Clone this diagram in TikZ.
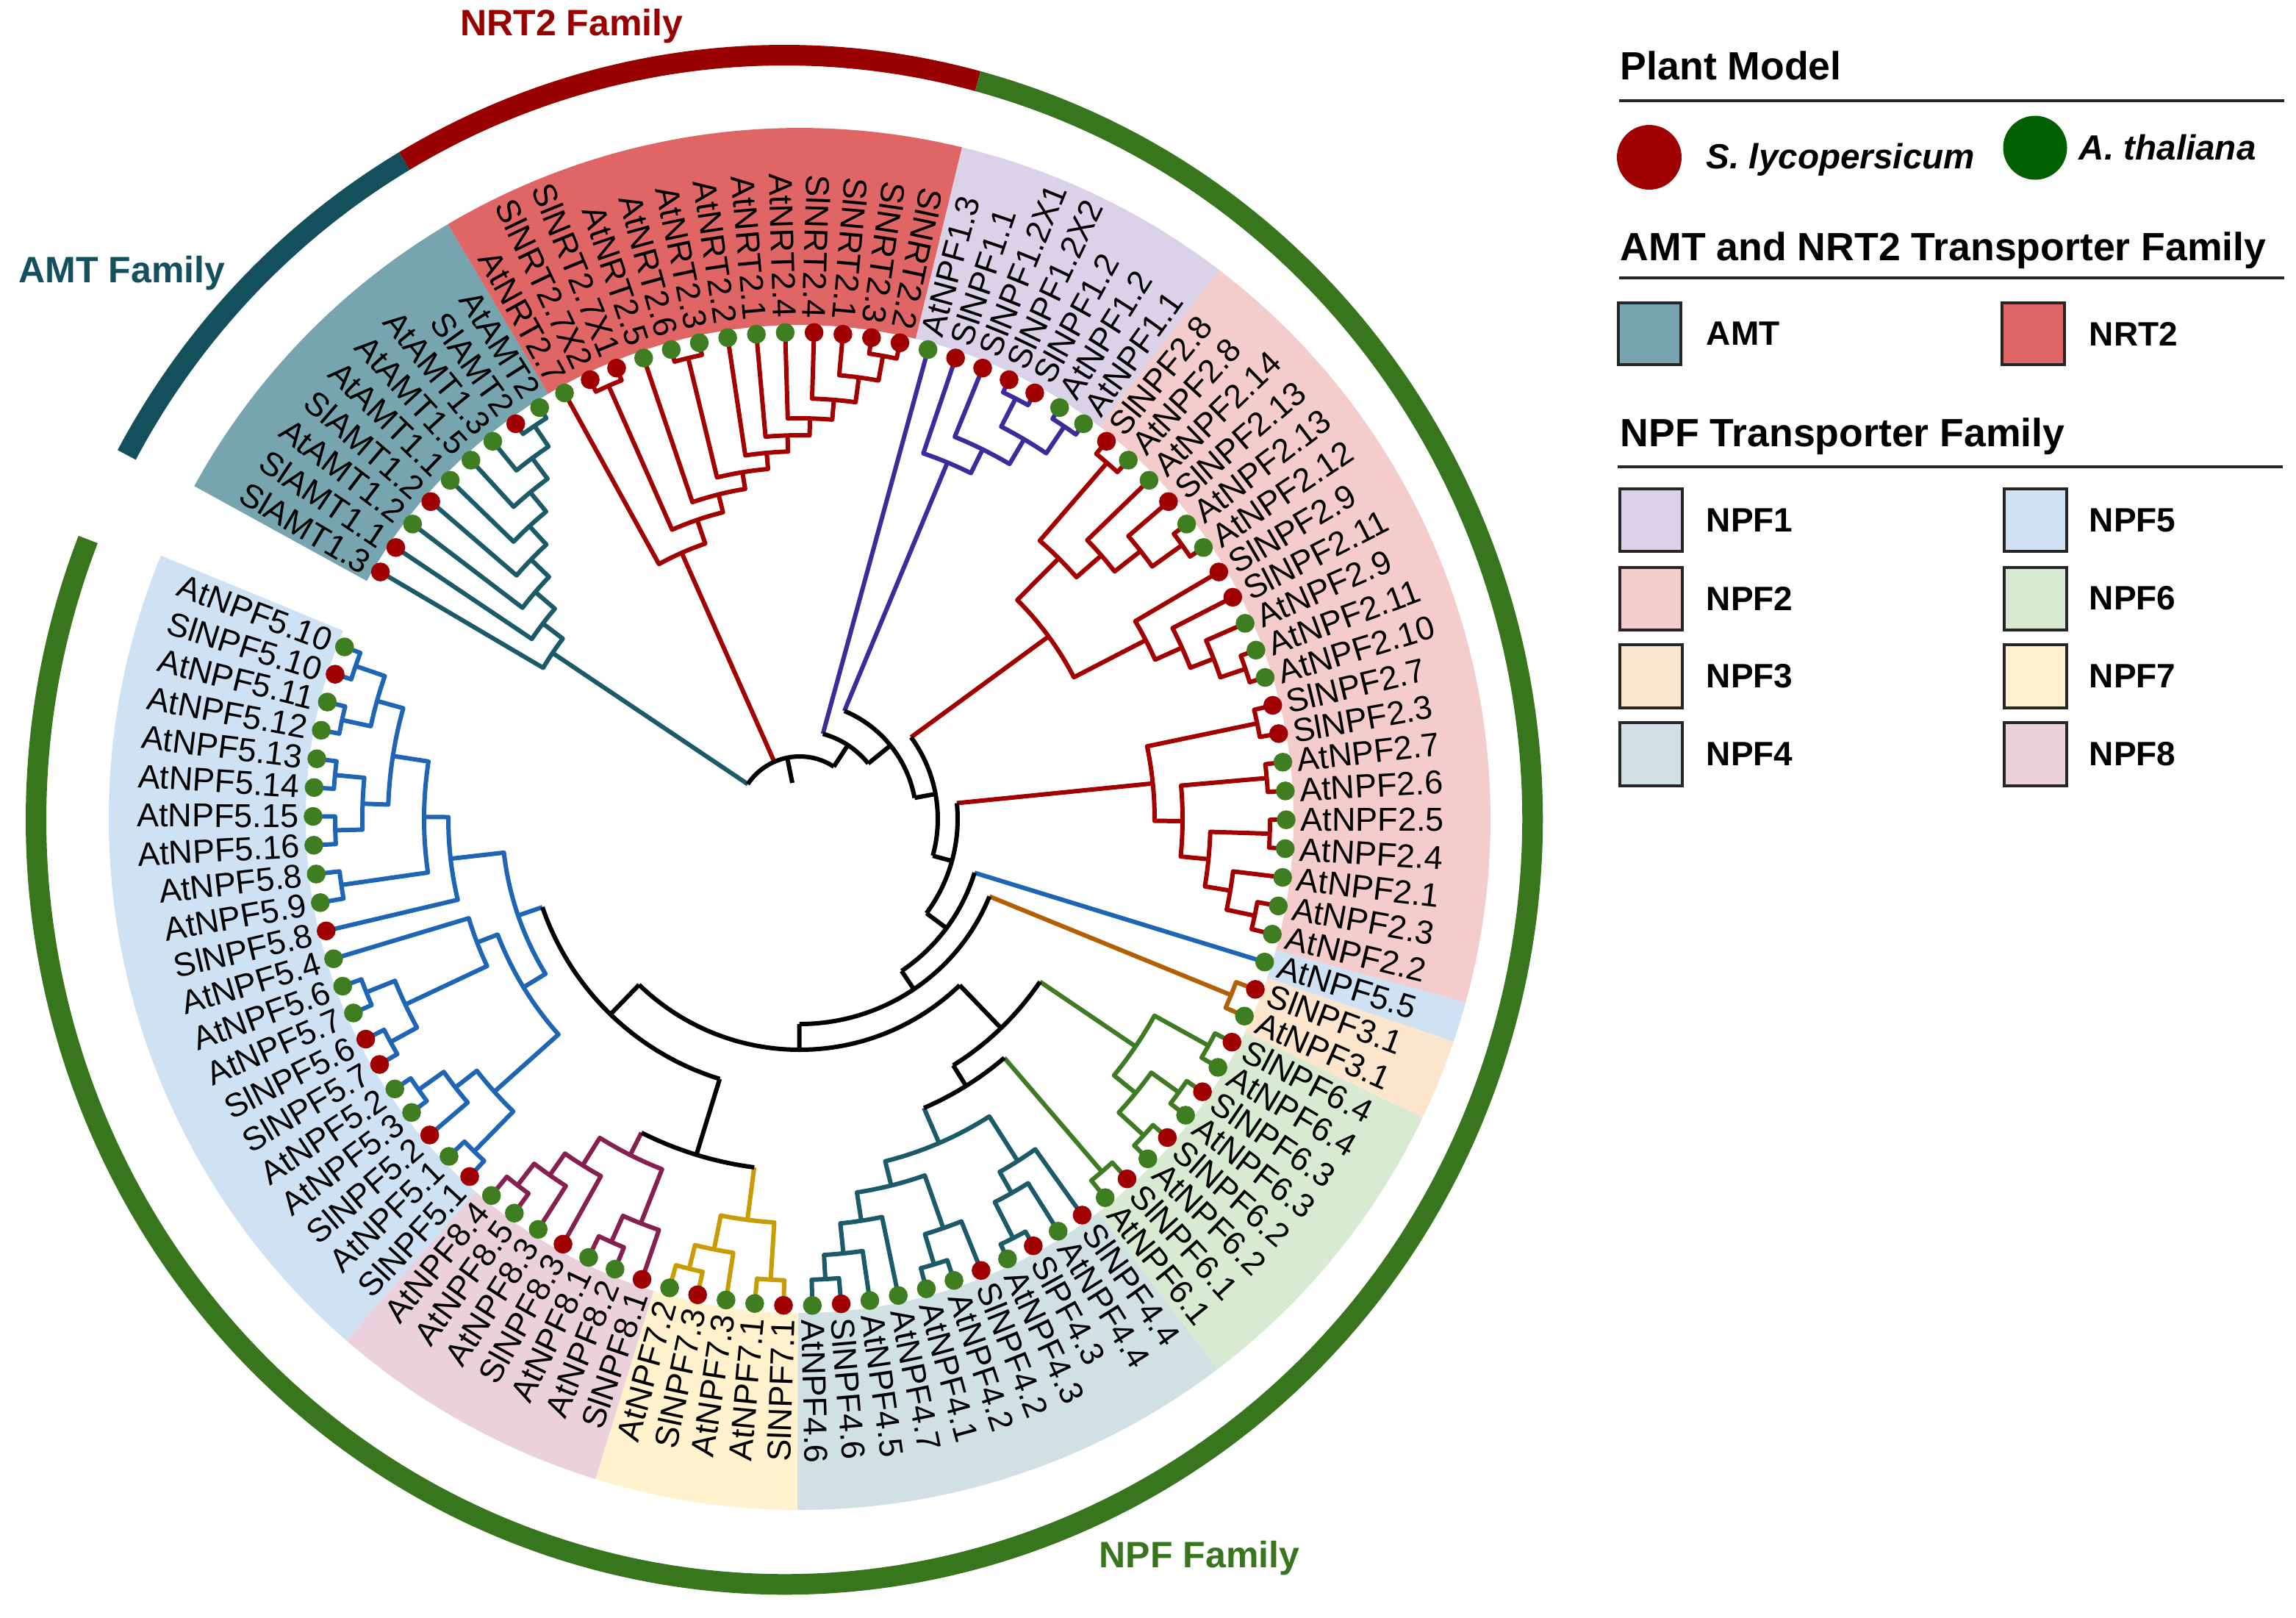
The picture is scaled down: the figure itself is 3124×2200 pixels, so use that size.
\documentclass[tikz,border=0pt]{standalone}
\usepackage{fontspec}
\setmainfont{Liberation Sans}
\usepackage{xfp}
\definecolor{sAMT}{HTML}{76A5AF}
\definecolor{sNRT}{HTML}{E06666}
\definecolor{sN1}{HTML}{D9D2E9}
\definecolor{sN2}{HTML}{F4CCCC}
\definecolor{sN3}{HTML}{FCE5CD}
\definecolor{sN4}{HTML}{D0E0E3}
\definecolor{sN5}{HTML}{CFE2F3}
\definecolor{sN6}{HTML}{D9EAD3}
\definecolor{sN7}{HTML}{FFF2CC}
\definecolor{sN8}{HTML}{EAD1DC}
\definecolor{rAMT}{HTML}{134F5C}
\definecolor{rNRT}{HTML}{990000}
\definecolor{rNPF}{HTML}{38761D}
\definecolor{lAMT}{HTML}{1B5A68}
\definecolor{lRED}{HTML}{A30000}
\definecolor{lN1}{HTML}{3F2A9C}
\definecolor{lN3}{HTML}{B45F06}
\definecolor{lN5}{HTML}{1E65B5}
\definecolor{lN6}{HTML}{3E7B22}
\definecolor{lN7}{HTML}{C99B04}
\definecolor{lN8}{HTML}{86204F}
\definecolor{dR}{HTML}{A00000}
\definecolor{dG}{HTML}{3E7D20}
\definecolor{lgG}{HTML}{005F00}
\newcommand\LA[1]{\fpeval{149.5-3.4*(#1)}}
\newcommand\MID[2]{\fpeval{((#1)+(#2))/2}}
\newcommand\Nd[6]{\edef\ndA{#3}\edef\ndB{#5}\draw[#1] (\ndA:#4) -- (\ndA:#2) arc[start angle=\ndA,end angle=\ndB,radius=#2] -- (\ndB:#6);}
\newcommand\Rd[4]{\edef\ndA{#2}\draw[#1] (\ndA:#3) -- (\ndA:#4);}
\newcommand\Ar[4]{\edef\ndA{#3}\edef\ndB{#4}\draw[#1] (\ndA:#2) arc[start angle=\ndA,end angle=\ndB,radius=#2];}
\newcommand\Sec[3]{\edef\secA{\fpeval{149.5-3.4*(#2)+1.7}}\edef\secB{\fpeval{149.5-3.4*(#3)-1.7}}\fill[#1] (\secA:672) arc[start angle=\secA,end angle=\secB,radius=672] -- (\secB:940) arc[start angle=\secB,end angle=\secA,radius=940] -- cycle;}
\newcommand\Lf[3]{\edef\lfA{\LA{#1}}\node[dot#3] (d#1) at (\lfA:662) {};%
\ifnum#1<22 \edef\lfR{\fpeval{\lfA+180}}\node[lab,anchor=east,rotate=\lfR] (l#1) at (\lfA:681) {#2};%
\else\ifnum#1>70 \edef\lfR{\fpeval{\lfA+180}}\node[lab,anchor=east,rotate=\lfR] (l#1) at (\lfA:681) {#2};%
\else\node[lab,anchor=west,rotate=\lfA] (l#1) at (\lfA:681) {#2};\fi\fi}
\tikzset{
 br/.style={line width=1.5pt, line join=round},
 blk/.style={br, draw=black},
 amt/.style={br, draw=lAMT},
 nrt/.style={br, draw=lRED},
 npfa/.style={br, draw=lN1},
 npfc/.style={br, draw=lN3},
 npfd/.style={br, draw=lAMT},
 npfe/.style={br, draw=lN5},
 npff/.style={br, draw=lN6},
 npfg/.style={br, draw=lN7},
 npfh/.style={br, draw=lN8},
 dotr/.style={circle, fill=dR, inner sep=0pt, minimum size=6.4pt},
 dotg/.style={circle, fill=dG, inner sep=0pt, minimum size=6.4pt},
 lab/.style={font=\fontsize{11.25}{13}\selectfont, inner sep=0pt, text=black},
 ringst/.style={line width=7pt},
 fam/.style={font=\fontsize{12.5}{15}\selectfont\bfseries, inner sep=0pt},
 ttl/.style={font=\fontsize{13.4}{16}\selectfont\bfseries, inner sep=0pt, text=black},
 spc/.style={font=\fontsize{11.9}{15}\selectfont\bfseries\itshape, inner sep=0pt, text=black},
 lgt/.style={font=\fontsize{11.5}{14}\selectfont\bfseries, inner sep=0pt, text=black},
 legline/.style={line width=1pt, draw=black!85},
 swatch/.style={line width=1pt, draw=black!85},
}
\begin{document}
\begin{tikzpicture}[x=0.25pt,y=0.25pt]
\useasboundingbox (-1088,-1086) rectangle (2036,1114);
\fill[white] (-1088,-1086) rectangle (2036,1114);
% ---------- sectors ----------
\Sec{sAMT}{0}{8}
\Sec{sNRT}{9}{21}
\Sec{sN1}{22}{28}
\Sec{sN2}{29}{48}
\Sec{sN5}{49}{49}
\Sec{sN3}{50}{51}
\Sec{sN6}{52}{59}
\Sec{sN4}{60}{70}
\Sec{sN7}{71}{75}
\Sec{sN8}{76}{82}
\Sec{sN5}{83}{103}
% ---------- rings ----------
\begin{scope}[shift={(-21,-1)}]
\draw[ringst, rAMT] (151.5:1018 and 1040) arc[start angle=151.5,end angle=120.5,x radius=1018,y radius=1040];
\draw[ringst, rNRT] (120.5:1018 and 1040) arc[start angle=120.5,end angle=75,x radius=1018,y radius=1040];
\draw[ringst, rNPF] (75:1018 and 1040) arc[start angle=75,end angle=-201.5,x radius=1018,y radius=1040];
\end{scope}
\node[fam, text=rNRT] (fN) at (-310,1078) {NRT2 Family};
\node[fam, text=rAMT] (fA) at (-922,742) {AMT Family};
\node[fam, text=rNPF] (fP) at (544,-1006) {NPF Family};
% ---------- AMT ----------
\edef\amH{\MID{\LA{7}}{\LA{8}}}
\edef\amG{\MID{\LA{6}}{\amH}}
\edef\amF{\MID{\LA{5}}{\amG}}
\edef\amE{\MID{\LA{4}}{\amF}}
\edef\amD{\MID{\LA{3}}{\amE}}
\edef\amC{\MID{\LA{2}}{\amD}}
\edef\amB{\MID{\LA{1}}{\amC}}
\edef\amA{\MID{\LA{0}}{\amB}}
\Nd{amt}{645}{\LA{7}}{662}{\LA{8}}{662}
\Nd{amt}{611}{\LA{6}}{662}{\amH}{645}
\Nd{amt}{576}{\LA{5}}{662}{\amG}{611}
\Nd{amt}{542}{\LA{4}}{662}{\amF}{576}
\Nd{amt}{508}{\LA{3}}{662}{\amE}{542}
\Nd{amt}{474}{\LA{2}}{662}{\amD}{508}
\Nd{amt}{439}{\LA{1}}{662}{\amC}{474}
\Nd{amt}{405}{\LA{0}}{662}{\amB}{439}
% ---------- NRT2 ----------
\edef\nrJ{\MID{\LA{20}}{\LA{21}}}
\edef\nrI{\MID{\LA{19}}{\nrJ}}
\edef\nrH{\MID{\LA{18}}{\nrI}}
\edef\nrG{\MID{\LA{17}}{\nrH}}
\edef\nrF{\MID{\LA{16}}{\nrG}}
\edef\nrE{\MID{\LA{15}}{\nrF}}
\edef\nrP{\MID{\LA{13}}{\LA{14}}}
\edef\nrD{\MID{\nrP}{\nrE}}
\edef\nrC{\MID{\LA{12}}{\nrD}}
\edef\nrX{\MID{\LA{10}}{\LA{11}}}
\edef\nrB{\MID{\nrX}{\nrC}}
\edef\nrA{\MID{\LA{9}}{\nrB}}
\Nd{nrt}{640}{\LA{20}}{662}{\LA{21}}{662}
\Nd{nrt}{606}{\LA{19}}{662}{\nrJ}{640}
\Nd{nrt}{572}{\LA{18}}{662}{\nrI}{606}
\Nd{nrt}{545}{\LA{17}}{662}{\nrH}{572}
\Nd{nrt}{522}{\LA{16}}{662}{\nrG}{545}
\Nd{nrt}{500}{\LA{15}}{662}{\nrF}{522}
\Nd{nrt}{645}{\LA{13}}{662}{\LA{14}}{662}
\Nd{nrt}{478}{\nrP}{645}{\nrE}{500}
\Nd{nrt}{455}{\LA{12}}{662}{\nrD}{478}
\Nd{nrt}{644}{\LA{10}}{662}{\LA{11}}{662}
\Nd{nrt}{430}{\nrX}{644}{\nrC}{455}
\Nd{nrt}{396}{\LA{9}}{662}{\nrB}{430}
% ---------- NPF1 ----------
\edef\naP{\MID{\LA{25}}{\LA{26}}}
\edef\naQ{\MID{\LA{27}}{\LA{28}}}
\edef\naC{\MID{\naP}{\naQ}}
\edef\naB{\MID{\LA{24}}{\naC}}
\edef\naA{\MID{\LA{23}}{\naB}}
\Nd{npfa}{643}{\LA{25}}{662}{\LA{26}}{662}
\Nd{npfa}{644}{\LA{27}}{662}{\LA{28}}{662}
\Nd{npfa}{600}{\naP}{643}{\naQ}{644}
\Nd{npfa}{561}{\LA{24}}{662}{\naC}{600}
\Nd{npfa}{525}{\LA{23}}{662}{\naB}{561}
% ---------- NPF2 a ----------
\edef\nbP{\MID{\LA{29}}{\LA{30}}}
\edef\nbQ{\MID{\LA{33}}{\LA{34}}}
\edef\nbD{\MID{\LA{32}}{\nbQ}}
\edef\nbC{\MID{\LA{31}}{\nbD}}
\edef\nbB{\MID{\nbP}{\nbC}}
\edef\nbR{\MID{\LA{38}}{\LA{39}}}
\edef\nbG{\MID{\LA{37}}{\nbR}}
\edef\nbF{\MID{\LA{36}}{\nbG}}
\edef\nbE{\MID{\LA{35}}{\nbF}}
\edef\nbA{\MID{\nbB}{\nbE}}
\Nd{nrt}{640}{\LA{29}}{662}{\LA{30}}{662}
\Nd{nrt}{640}{\LA{33}}{662}{\LA{34}}{662}
\Nd{nrt}{590}{\LA{32}}{662}{\nbQ}{640}
\Nd{nrt}{545}{\LA{31}}{662}{\nbD}{590}
\Nd{nrt}{500}{\nbP}{640}{\nbC}{545}
\Nd{nrt}{640}{\LA{38}}{662}{\LA{39}}{662}
\Nd{nrt}{604}{\LA{37}}{662}{\nbR}{640}
\Nd{nrt}{570}{\LA{36}}{662}{\nbG}{604}
\Nd{nrt}{530}{\LA{35}}{662}{\nbF}{570}
\Nd{nrt}{420}{\nbB}{500}{\nbE}{530}
% ---------- NPF2 b ----------
\edef\ncP{\MID{\LA{40}}{\LA{41}}}
\edef\ncQ{\MID{\LA{42}}{\LA{43}}}
\edef\ncR{\MID{\LA{44}}{\LA{45}}}
\edef\ncS{\MID{\LA{47}}{\LA{48}}}
\edef\ncD{\MID{\LA{46}}{\ncS}}
\edef\ncC{\MID{\ncR}{\ncD}}
\edef\ncB{\MID{\ncQ}{\ncC}}
\edef\ncA{\MID{\ncP}{\ncB}}
\Nd{nrt}{636}{\LA{40}}{662}{\LA{41}}{662}
\Nd{nrt}{638}{\LA{42}}{662}{\LA{43}}{662}
\Nd{nrt}{640}{\LA{44}}{662}{\LA{45}}{662}
\Nd{nrt}{633}{\LA{47}}{662}{\LA{48}}{662}
\Nd{nrt}{594}{\LA{46}}{662}{\ncS}{633}
\Nd{nrt}{559}{\ncR}{640}{\ncD}{594}
\Nd{nrt}{521}{\ncQ}{638}{\ncC}{559}
\Nd{nrt}{483}{\ncP}{636}{\ncB}{521}
% ---------- NPF3 ----------
\edef\ndP{\MID{\LA{50}}{\LA{51}}}
\Nd{npfc}{634}{\LA{50}}{662}{\LA{51}}{662}
% ---------- NPF6 ----------
\edef\nfP{\MID{\LA{52}}{\LA{53}}}
\edef\nfQ{\MID{\LA{54}}{\LA{55}}}
\edef\nfR{\MID{\LA{56}}{\LA{57}}}
\edef\nfS{\MID{\LA{58}}{\LA{59}}}
\edef\nfB{\MID{\nfQ}{\nfR}}
\edef\nfA{\MID{\nfP}{\nfB}}
\Nd{npff}{636}{\LA{52}}{662}{\LA{53}}{662}
\Nd{npff}{636}{\LA{54}}{662}{\LA{55}}{662}
\Nd{npff}{636}{\LA{56}}{662}{\LA{57}}{662}
\Nd{npff}{632}{\LA{58}}{662}{\LA{59}}{662}
\Nd{npff}{590}{\nfQ}{636}{\nfR}{636}
\Nd{npff}{552}{\nfP}{636}{\nfB}{590}
% ---------- NPF4 ----------
\edef\ngP{\MID{\LA{62}}{\LA{63}}}
\edef\ngC{\MID{\LA{61}}{\ngP}}
\edef\ngB{\MID{\LA{60}}{\ngC}}
\edef\ngQ{\MID{\LA{65}}{\LA{66}}}
\edef\ngE{\MID{\LA{64}}{\ngQ}}
\edef\ngR{\MID{\LA{69}}{\LA{70}}}
\edef\ngG{\MID{\LA{68}}{\ngR}}
\edef\ngF{\MID{\LA{67}}{\ngG}}
\edef\ngD{\MID{\ngE}{\ngF}}
\edef\ngA{\MID{\ngB}{\ngD}}
\Nd{npfd}{640}{\LA{62}}{662}{\LA{63}}{662}
\Nd{npfd}{585}{\LA{61}}{662}{\ngP}{640}
\Nd{npfd}{552}{\LA{60}}{662}{\ngC}{585}
\Nd{npfd}{633}{\LA{65}}{662}{\LA{66}}{662}
\Nd{npfd}{590}{\LA{64}}{662}{\ngQ}{633}
\Nd{npfd}{627}{\LA{69}}{662}{\LA{70}}{662}
\Nd{npfd}{594}{\LA{68}}{662}{\ngR}{627}
\Nd{npfd}{553}{\LA{67}}{662}{\ngG}{594}
\Nd{npfd}{514}{\ngE}{590}{\ngF}{553}
\Nd{npfd}{480}{\ngB}{552}{\ngD}{514}
% ---------- NPF7 ----------
\edef\nhP{\MID{\LA{71}}{\LA{72}}}
\edef\nhQ{\MID{\LA{74}}{\LA{75}}}
\edef\nhB{\MID{\LA{73}}{\nhQ}}
\edef\nhA{\MID{\nhP}{\nhB}}
\Nd{npfg}{628}{\LA{71}}{662}{\LA{72}}{662}
\Nd{npfg}{630}{\LA{74}}{662}{\LA{75}}{662}
\Nd{npfg}{597}{\LA{73}}{662}{\nhQ}{630}
\Nd{npfg}{550}{\nhP}{628}{\nhB}{597}
% ---------- NPF8 ----------
\edef\niP{\MID{\LA{77}}{\LA{78}}}
\edef\niB{\MID{\LA{76}}{\niP}}
\edef\niQ{\MID{\LA{81}}{\LA{82}}}
\edef\niD{\MID{\LA{80}}{\niQ}}
\edef\niC{\MID{\LA{79}}{\niD}}
\edef\niA{\MID{\niB}{\niC}}
\Nd{npfh}{630}{\LA{77}}{662}{\LA{78}}{662}
\Nd{npfh}{591}{\LA{76}}{662}{\niP}{630}
\Nd{npfh}{629}{\LA{81}}{662}{\LA{82}}{662}
\Nd{npfh}{592}{\LA{80}}{662}{\niQ}{629}
\Nd{npfh}{556}{\LA{79}}{662}{\niD}{592}
\Nd{npfh}{512}{\niB}{591}{\niC}{556}
% ---------- NPF5 ----------
\edef\njP{\MID{\LA{83}}{\LA{84}}}
\edef\njQ{\MID{\LA{86}}{\LA{87}}}
\edef\njC{\MID{\LA{85}}{\njQ}}
\edef\njB{\MID{\njP}{\njC}}
\edef\njR{\MID{\LA{88}}{\LA{89}}}
\edef\njS{\MID{\LA{90}}{\LA{91}}}
\edef\njD{\MID{\njR}{\njS}}
\edef\njE{\MID{\njD}{\LA{92}}}
\edef\njF{\MID{\njB}{\njE}}
\edef\nkP{\MID{\LA{94}}{\LA{95}}}
\edef\nkQ{\MID{\LA{96}}{\LA{97}}}
\edef\nkR{\MID{\LA{98}}{\LA{99}}}
\edef\nkS{\MID{\LA{100}}{\LA{101}}}
\edef\nkT{\MID{\LA{102}}{\LA{103}}}
\edef\nkD{\MID{\nkQ}{\nkR}}
\edef\nkE{\MID{\nkS}{\nkT}}
\edef\nkC{\MID{\nkD}{\nkE}}
\edef\nkB{\MID{\nkP}{\nkC}}
\edef\nkA{\MID{\LA{93}}{\nkB}}
\edef\nfZ{\MID{\njF}{\nkA}}
\Nd{npfe}{633}{\LA{83}}{662}{\LA{84}}{662}
\Nd{npfe}{636}{\LA{86}}{662}{\LA{87}}{662}
\Nd{npfe}{594}{\LA{85}}{662}{\njQ}{636}
\Nd{npfe}{557}{\njP}{633}{\njC}{594}
\Nd{npfe}{634}{\LA{88}}{662}{\LA{89}}{662}
\Nd{npfe}{635}{\LA{90}}{662}{\LA{91}}{662}
\Nd{npfe}{593}{\njR}{634}{\njS}{635}
\Nd{npfe}{470}{\njD}{593}{\LA{92}}{662}
\Nd{npfe}{440}{\njB}{557}{\njE}{470}
\Nd{npfe}{630}{\LA{94}}{662}{\LA{95}}{662}
\Nd{npfe}{632}{\LA{96}}{662}{\LA{97}}{662}
\Nd{npfe}{635}{\LA{98}}{662}{\LA{99}}{662}
\Nd{npfe}{637}{\LA{100}}{662}{\LA{101}}{662}
\Nd{npfe}{639}{\LA{102}}{662}{\LA{103}}{662}
\Nd{npfe}{595}{\nkQ}{632}{\nkR}{635}
\Nd{npfe}{597}{\nkS}{637}{\nkT}{639}
\Nd{npfe}{560}{\nkD}{595}{\nkE}{597}
\Nd{npfe}{511}{\nkP}{630}{\nkC}{560}
\Nd{npfe}{478}{\LA{93}}{662}{\nkB}{511}
\Nd{npfe}{405}{\njF}{440}{\nkA}{478}
% ---------- backbone ----------
\edef\DB{\MID{\nfS}{\ngA}}
\edef\DA{\MID{\nfA}{\DB}}
\edef\EB{\MID{\nhA}{\niA}}
\edef\EA{\MID{\EB}{\nfZ}}
\edef\EZ{\MID{\DA}{\EA}}
\edef\CF{\MID{\ndP}{\EZ}}
\edef\CE{\MID{\LA{49}}{\CF}}
\edef\CD{\MID{\ncA}{\CE}}
\edef\CC{\MID{\nbA}{\CD}}
\edef\CB{\MID{\naA}{\CC}}
\edef\CA{\MID{\LA{22}}{\CB}}
\edef\RR{\MID{\amA}{\CA}}
\Rd{amt}{\amA}{85}{405}
\Rd{nrt}{\nrA}{85}{396}
\Rd{npfa}{\LA{22}}{120}{662}
\Rd{npfa}{\naA}{159}{525}
\Rd{nrt}{\nbA}{188}{420}
\Rd{nrt}{\ncA}{215}{483}
\Rd{npfe}{\LA{49}}{249}{662}
\Rd{npfc}{\ndP}{279}{634}
\Rd{npff}{\nfA}{395}{552}
\Rd{npff}{\nfS}{428}{632}
\Rd{npfd}{\ngA}{428}{480}
\Rd{npfe}{\nfZ}{370}{405}
\Rd{npfg}{\nhA}{478}{550}
\Rd{npfh}{\niA}{478}{512}
\Ar{blk}{85}{\amA}{\CA}
\Rd{blk}{\RR}{50}{85}
\Rd{blk}{\CA}{85}{120}
\Ar{blk}{120}{\LA{22}}{\CB}
\Rd{blk}{\CB}{120}{159}
\Ar{blk}{159}{\naA}{\CC}
\Rd{blk}{\CC}{159}{188}
\Ar{blk}{188}{\nbA}{\CD}
\Rd{blk}{\CD}{188}{215}
\Ar{blk}{215}{\ncA}{\CE}
\Rd{blk}{\CE}{215}{249}
\Ar{blk}{249}{\LA{49}}{\CF}
\Rd{blk}{\CF}{249}{279}
\Ar{blk}{279}{\ndP}{\EZ}
\Rd{blk}{\EZ}{279}{314}
\Ar{blk}{314}{\DA}{\EA}
\Rd{blk}{\DA}{314}{395}
\Ar{blk}{395}{\nfA}{\DB}
\Rd{blk}{\DB}{395}{428}
\Ar{blk}{428}{\nfS}{\ngA}
\Rd{blk}{\EA}{314}{370}
\Ar{blk}{370}{\EB}{\nfZ}
\Rd{blk}{\EB}{370}{478}
\Ar{blk}{478}{\nhA}{\niA}
% ---------- leaves ----------
\Lf{0}{SlAMT1.3}{r}
\Lf{1}{SlAMT1.1}{r}
\Lf{2}{AtAMT1.2}{g}
\Lf{3}{SlAMT1.2}{r}
\Lf{4}{AtAMT1.1}{g}
\Lf{5}{AtAMT1.5}{g}
\Lf{6}{AtAMT1.3}{g}
\Lf{7}{SlAMT2}{r}
\Lf{8}{AtAMT2}{g}
\Lf{9}{AtNRT2.7}{g}
\Lf{10}{SlNRT2.7X2}{r}
\Lf{11}{SlNRT2.7X1}{r}
\Lf{12}{AtNRT2.5}{g}
\Lf{13}{AtNRT2.6}{g}
\Lf{14}{AtNRT2.3}{g}
\Lf{15}{AtNRT2.2}{g}
\Lf{16}{AtNRT2.1}{g}
\Lf{17}{AtNRT2.4}{g}
\Lf{18}{SlNRT2.4}{r}
\Lf{19}{SlNRT2.1}{r}
\Lf{20}{SlNRT2.3}{r}
\Lf{21}{SlNRT2.2}{r}
\Lf{22}{AtNPF1.3}{g}
\Lf{23}{SlNPF1.1}{r}
\Lf{24}{SlNPF1.2X1}{r}
\Lf{25}{SlNPF1.2X2}{r}
\Lf{26}{SlNPF1.2}{r}
\Lf{27}{AtNPF1.2}{g}
\Lf{28}{AtNPF1.1}{g}
\Lf{29}{SlNPF2.8}{r}
\Lf{30}{AtNPF2.8}{g}
\Lf{31}{AtNPF2.14}{g}
\Lf{32}{SlNPF2.13}{r}
\Lf{33}{AtNPF2.13}{g}
\Lf{34}{AtNPF2.12}{g}
\Lf{35}{SlNPF2.9}{r}
\Lf{36}{SlNPF2.11}{r}
\Lf{37}{AtNPF2.9}{g}
\Lf{38}{AtNPF2.11}{g}
\Lf{39}{AtNPF2.10}{g}
\Lf{40}{SlNPF2.7}{r}
\Lf{41}{SlNPF2.3}{r}
\Lf{42}{AtNPF2.7}{g}
\Lf{43}{AtNPF2.6}{g}
\Lf{44}{AtNPF2.5}{g}
\Lf{45}{AtNPF2.4}{g}
\Lf{46}{AtNPF2.1}{g}
\Lf{47}{AtNPF2.3}{g}
\Lf{48}{AtNPF2.2}{g}
\Lf{49}{AtNPF5.5}{g}
\Lf{50}{SlNPF3.1}{r}
\Lf{51}{AtNPF3.1}{g}
\Lf{52}{SlNPF6.4}{r}
\Lf{53}{AtNPF6.4}{g}
\Lf{54}{SlNPF6.3}{r}
\Lf{55}{AtNPF6.3}{g}
\Lf{56}{SlNPF6.2}{r}
\Lf{57}{AtNPF6.2}{g}
\Lf{58}{SlNPF6.1}{r}
\Lf{59}{AtNPF6.1}{g}
\Lf{60}{SlNPF4.4}{r}
\Lf{61}{AtNPF4.4}{g}
\Lf{62}{SlPF4.3}{r}
\Lf{63}{AtNPF4.3}{g}
\Lf{64}{SlNPF4.2}{r}
\Lf{65}{AtNPF4.2}{g}
\Lf{66}{AtNPF4.1}{g}
\Lf{67}{AtNPF4.7}{g}
\Lf{68}{AtNPF4.5}{g}
\Lf{69}{SlNPF4.6}{r}
\Lf{70}{AtNPF4.6}{g}
\Lf{71}{SlNPF7.1}{r}
\Lf{72}{AtNPF7.1}{g}
\Lf{73}{AtNPF7.3}{g}
\Lf{74}{SlNPF7.3}{r}
\Lf{75}{AtNPF7.2}{g}
\Lf{76}{SlNPF8.1}{r}
\Lf{77}{AtNPF8.2}{g}
\Lf{78}{AtNPF8.1}{g}
\Lf{79}{SlNPF8.3}{r}
\Lf{80}{AtNPF8.3}{g}
\Lf{81}{AtNPF8.5}{g}
\Lf{82}{AtNPF8.4}{g}
\Lf{83}{SlNPF5.1}{r}
\Lf{84}{AtNPF5.1}{g}
\Lf{85}{SlNPF5.2}{r}
\Lf{86}{AtNPF5.3}{g}
\Lf{87}{AtNPF5.2}{g}
\Lf{88}{SlNPF5.7}{r}
\Lf{89}{SlNPF5.6}{r}
\Lf{90}{AtNPF5.7}{g}
\Lf{91}{AtNPF5.6}{g}
\Lf{92}{AtNPF5.4}{g}
\Lf{93}{SlNPF5.8}{r}
\Lf{94}{AtNPF5.9}{g}
\Lf{95}{AtNPF5.8}{g}
\Lf{96}{AtNPF5.16}{g}
\Lf{97}{AtNPF5.15}{g}
\Lf{98}{AtNPF5.14}{g}
\Lf{99}{AtNPF5.13}{g}
\Lf{100}{AtNPF5.12}{g}
\Lf{101}{AtNPF5.11}{g}
\Lf{102}{SlNPF5.10}{r}
\Lf{103}{AtNPF5.10}{g}
% ---------- legend ----------
\node[ttl, anchor=base west] (tPM) at (1116,1006) {Plant Model};
\draw[legline] (1115,977) -- (2020,977);
\node[circle, fill=dR, inner sep=0pt, minimum size=22pt] (cS) at (1156,900) {};
\node[spc, anchor=base west] (tS) at (1233,885) {S. lycopersicum};
\node[circle, fill=lgG, inner sep=0pt, minimum size=21.75pt] (cA) at (1681,913) {};
\node[spc, anchor=base west] (tAt) at (1740,897) {A. thaliana};
\node[ttl, anchor=base west] (tAN) at (1116,760) {AMT and NRT2 Transporter Family};
\draw[legline] (1115,736) -- (2020,736);
\draw[swatch, fill=sAMT] (1114,618) rectangle (1199,702);
\node[lgt, anchor=west] (kAMT) at (1233,660) {AMT};
\draw[swatch, fill=sNRT] (1636,618) rectangle (1721,702);
\node[lgt, anchor=west] (kNRT) at (1754,660) {NRT2};
\node[ttl, anchor=base west] (tNP) at (1116,507) {NPF Transporter Family};
\draw[legline] (1113,479) -- (2018,479);
\draw[swatch, fill=sN1] (1116,364) rectangle (1201,449);
\node[lgt, anchor=west] (k1) at (1233,406) {NPF1};
\draw[swatch, fill=sN2] (1116,257) rectangle (1201,342);
\node[lgt, anchor=west] (k2) at (1233,300) {NPF2};
\draw[swatch, fill=sN3] (1116,151) rectangle (1201,237);
\node[lgt, anchor=west] (k3) at (1233,194) {NPF3};
\draw[swatch, fill=sN4] (1116,45) rectangle (1201,131);
\node[lgt, anchor=west] (k4) at (1233,88) {NPF4};
\draw[swatch, fill=sN5] (1639,364) rectangle (1724,449);
\node[lgt, anchor=west] (k5) at (1754,406) {NPF5};
\draw[swatch, fill=sN6] (1639,257) rectangle (1724,342);
\node[lgt, anchor=west] (k6) at (1754,300) {NPF6};
\draw[swatch, fill=sN7] (1639,151) rectangle (1724,237);
\node[lgt, anchor=west] (k7) at (1754,194) {NPF7};
\draw[swatch, fill=sN8] (1639,45) rectangle (1724,131);
\node[lgt, anchor=west] (k8) at (1754,88) {NPF8};
\end{tikzpicture}
\end{document}
